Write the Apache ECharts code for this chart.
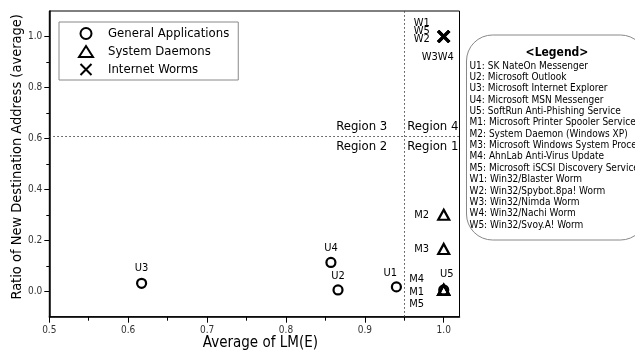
<!DOCTYPE html>
<html>
<head>
<meta charset="utf-8">
<script src="https://cdn.jsdelivr.net/npm/echarts@6/dist/echarts.min.js"></script>
<style>html,body{margin:0;padding:0;background:#fff}#c{width:635px;height:351px}</style>
</head>
<body>
<div id="c"></div>
<script>
// ---- data ----
const generalNames = ['U1', 'U2', 'U3', 'U4', 'U5'];
const generalX = [0.940, 0.866, 0.617, 0.857, 1.000];
const generalY = [0.017, 0.005, 0.031, 0.113, 0.005];

const daemonNames = ['M1', 'M2', 'M3', 'M4', 'M5'];
const daemonX = [1.000, 1.000, 1.000, 1.000, 1.000];
const daemonY = [0.005, 0.300, 0.166, 0.005, 0.005];

const wormNames = ['W1', 'W2', 'W3', 'W4', 'W5'];
const wormX = [1.000, 1.000, 1.000, 1.000, 1.000];
const wormY = [1.000, 1.000, 1.000, 1.000, 1.000];

const seriesNames = ['General Applications', 'System Daemons', 'Internet Worms'];

const xMajorTicks = [0.5, 0.6, 0.7, 0.8, 0.9, 1.0];
const xMinorTicks = [0.55, 0.65, 0.75, 0.85, 0.95];
const yMajorTicks = [0.0, 0.2, 0.4, 0.6, 0.8, 1.0];
const yMinorTicks = [0.1, 0.3, 0.5, 0.7, 0.9];

const thresholdX = 0.95;
const thresholdY = 0.61;
const regionNames = ['Region 1', 'Region 2', 'Region 3', 'Region 4'];

const legendTitle = '<Legend>';
const legendEntries = [
  'U1: SK NateOn Messenger',
  'U2: Microsoft Outlook',
  'U3: Microsoft Internet Explorer',
  'U4: Microsoft MSN Messenger',
  'U5: SoftRun Anti-Phishing Service',
  'M1: Microsoft Printer Spooler Service',
  'M2: System Daemon (Windows XP)',
  'M3: Microsoft Windows System Process',
  'M4: AhnLab Anti-Virus Update',
  'M5: Microsoft iSCSI Discovery Service',
  'W1: Win32/Blaster Worm',
  'W2: Win32/Spybot.8pa! Worm',
  'W3: Win32/Nimda Worm',
  'W4: Win32/Nachi Worm',
  'W5: Win32/Svoy.A! Worm'
];

// ---- styling ----
const FONT = 'Tahoma, "DejaVu Sans Condensed", "DejaVu Sans", sans-serif';
const lblBase = { show: true, color: '#000', fontFamily: FONT, fontSize: 11 };
const labelStyle = {
  U1: { position: 'top', distance: 3, offset: [-6, 0] },
  U2: { position: 'top', distance: 3 },
  U3: { position: 'top', distance: 4 },
  U4: { position: 'top', distance: 3 },
  U5: { position: 'top', distance: 5, offset: [3, 0] },
  M1: { position: 'left', distance: 13, formatter: 'M4\nM1\nM5', lineHeight: 12.5, offset: [0, 2] },
  M2: { position: 'left', distance: 8 },
  M3: { position: 'left', distance: 8 },
  W1: { position: 'left', distance: 7, formatter: 'W1\nW5\nW2', lineHeight: 8, offset: [0, -5] },
  W3: { position: 'bottom', distance: 8, formatter: 'W3W4', offset: [-6, 0] }
};
function build(names, xs, ys) {
  return names.map((n, i) => {
    const d = { name: n, value: [xs[i], ys[i]] };
    if (labelStyle[n]) d.label = Object.assign({}, lblBase, { formatter: n }, labelStyle[n]);
    return d;
  });
}

const chart = echarts.init(document.getElementById('c'), null, { renderer: 'canvas' });

const tickLabel = { color: '#333', fontFamily: FONT, fontSize: 10 };
const regionLbl = { show: true, color: '#000', fontFamily: FONT, fontSize: 13 };

const option = {
  animation: false,
  backgroundColor: '#fff',
  grid: { left: 49.3, right: 175.5, top: 11, bottom: 34.3, containLabel: false, outerBoundsMode: 'none', show: true, borderColor: '#000', borderWidth: 1, backgroundColor: 'transparent' },
  legend: {
    data: seriesNames,
    orient: 'vertical',
    left: 59, top: 22,
    itemWidth: 14, itemHeight: 11, itemGap: 5,
    padding: [5, 9, 4, 19],
    borderColor: '#888', borderWidth: 1,
    textStyle: { fontFamily: FONT, fontSize: 13, color: '#000', padding: [0, 0, 0, 10] },
    selectedMode: false
  },
  xAxis: [
    {
      type: 'value', min: 0.5, max: 1.02,
      name: 'Average of LM(E)', nameLocation: 'middle', nameGap: 19, nameMoveOverlap: false,
      nameTextStyle: { fontFamily: FONT, fontSize: 15, color: '#000', padding: [0, 0, 0, 12] },
      axisLine: { onZero: false, lineStyle: { color: '#000', width: 1.5 } },
      axisTick: { show: true, length: 6, customValues: xMajorTicks, lineStyle: { color: '#000', width: 1 } },
      axisLabel: Object.assign({ customValues: xMajorTicks, margin: 9, formatter: v => v.toFixed(1) }, tickLabel),
      splitLine: { show: false }
    },
    {
      type: 'value', min: 0.5, max: 1.02, position: 'bottom',
      axisLine: { show: false, onZero: false },
      axisTick: { show: true, length: 4, customValues: xMinorTicks, lineStyle: { color: '#000', width: 1 } },
      axisLabel: { show: false },
      splitLine: { show: false }
    }
  ],
  yAxis: [
    {
      type: 'value', min: -0.1, max: 1.1,
      name: 'Ratio of New Destination Address (average)', nameLocation: 'middle', nameGap: 25, nameMoveOverlap: false,
      nameTextStyle: { fontFamily: FONT, fontSize: 14.5, color: '#000', padding: [0, 0, 0, 14] },
      axisLine: { onZero: false, lineStyle: { color: '#000', width: 1.5 } },
      axisTick: { show: true, length: 5, customValues: yMajorTicks, lineStyle: { color: '#000', width: 1 } },
      axisLabel: Object.assign({ customValues: yMajorTicks, margin: 7, formatter: v => v.toFixed(1) }, tickLabel),
      splitLine: { show: false }
    },
    {
      type: 'value', min: -0.1, max: 1.1, position: 'left',
      axisLine: { show: false, onZero: false },
      axisTick: { show: true, length: 3, customValues: yMinorTicks, lineStyle: { color: '#000', width: 1 } },
      axisLabel: { show: false },
      splitLine: { show: false }
    }
  ],
  series: [
    {
      name: seriesNames[0], type: 'scatter',
      symbol: 'circle', symbolSize: 9,
      itemStyle: { color: 'transparent', borderColor: '#000', borderWidth: 2.2, opacity: 1 },
      data: build(generalNames, generalX, generalY),
      markLine: {
        silent: true, symbol: ['none', 'none'], label: { show: false },
        lineStyle: { type: [1.5, 2.5], color: '#444', width: 1 },
        data: [{ xAxis: thresholdX }, { yAxis: thresholdY }]
      },
      markPoint: {
        symbol: 'circle', symbolSize: 0, silent: true,
        itemStyle: { color: 'transparent' },
        data: [
          { coord: [thresholdX, thresholdY], label: Object.assign({}, regionLbl, { formatter: regionNames[0], position: 'right', distance: 3, offset: [0, 11] }) },
          { coord: [thresholdX, thresholdY], label: Object.assign({}, regionLbl, { formatter: regionNames[1], position: 'left', distance: 17, offset: [0, 11] }) },
          { coord: [thresholdX, thresholdY], label: Object.assign({}, regionLbl, { formatter: regionNames[2], position: 'left', distance: 17, offset: [0, -9] }) },
          { coord: [thresholdX, thresholdY], label: Object.assign({}, regionLbl, { formatter: regionNames[3], position: 'right', distance: 3, offset: [0, -9] }) }
        ]
      }
    },
    {
      name: seriesNames[1], type: 'scatter',
      symbol: 'triangle', symbolSize: [11, 10],
      itemStyle: { color: 'transparent', borderColor: '#000', borderWidth: 2.2, opacity: 1 },
      data: build(daemonNames, daemonX, daemonY)
    },
    {
      name: seriesNames[2], type: 'scatter',
      symbol: 'path://M0,0L10,10M10,0L0,10', symbolSize: 11,
      itemStyle: { color: 'transparent', borderColor: '#000', borderWidth: 3, opacity: 1 },
      data: build(wormNames, wormX, wormY)
    }
  ],
  graphic: [
    {
      type: 'rect', x: 466.5, y: 35, z: 10,
      shape: { width: 180, height: 205, r: 26 },
      style: { fill: '#fff', stroke: '#888', lineWidth: 1 }
    },
    {
      type: 'text', z: 11,
      x: 557, y: 53,
      style: { text: legendTitle, font: 'bold 12px ' + FONT, fill: '#000', align: 'center', verticalAlign: 'middle' }
    }
  ].concat(legendEntries.map((t, i) => ({
    type: 'text', z: 11,
    x: 469.5, y: 66 + i * 11.36,
    style: { text: t, font: '10px ' + FONT, fill: '#000', align: 'left', verticalAlign: 'middle' }
  })))
};
chart.setOption(option);
</script>
</body>
</html>
